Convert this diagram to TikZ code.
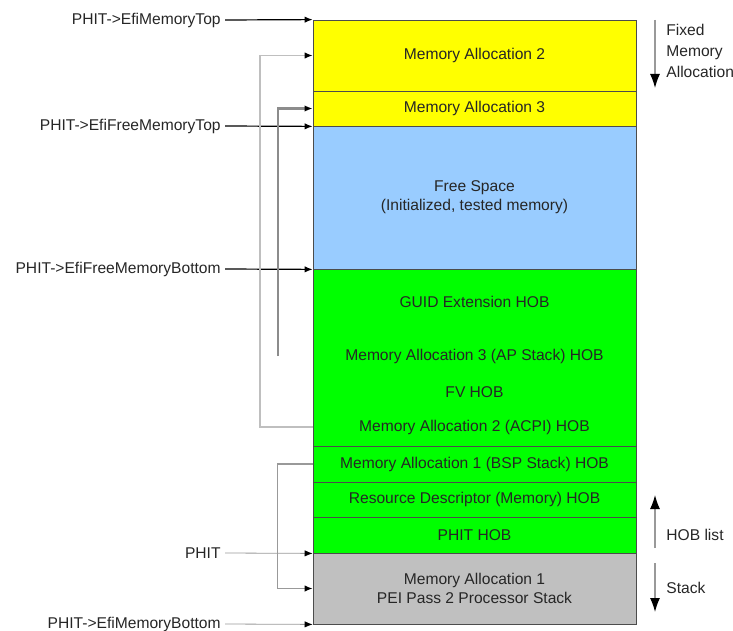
\documentclass[tikz,border=0pt]{standalone}
\usepackage{fontspec}
\setmainfont{Liberation Sans}
\usepackage{tikz}
\usetikzlibrary{arrows.meta, positioning, calc}

\definecolor{memyellow}{RGB}{255,255,0}
\definecolor{memblue}{RGB}{153,204,255}
\definecolor{memgreen}{RGB}{0,255,0}
\definecolor{memgray}{RGB}{192,192,192}

\begin{document}
\begin{tikzpicture}[
    x=0.5pt, y=-0.5pt,
    font=\fontsize{7.8}{9.6}\selectfont,
    block/.style={draw=black!70, minimum width=161.5pt, inner sep=0pt, align=center, text=black!85},
    ptrlabel/.style={anchor=east, inner sep=2pt, text=black!85},
    ptr/.style={black, semithick, -{Latex[length=4pt,width=3.2pt]}},
    ptrthin/.style={gray!80, thin, -{Latex[length=4pt,width=3.2pt,color=black]}},
    looplight/.style={gray!50, semithick, -{Latex[length=4pt,width=3.2pt,color=black]}},
    loopdark/.style={gray!90, very thick, -{Latex[length=4pt,width=3.2pt,color=black]}},
    loopmid/.style={gray!80, semithick, -{Latex[length=4pt,width=3.2pt,color=black]}},
    dirarrow/.style={gray!80, semithick, -{Latex[length=7pt,width=5pt,color=black]}},
    dirlabel/.style={anchor=west, align=left, inner sep=0pt, text=black!85}
]
\useasboundingbox (0,0) rectangle (733,631);

% X positions
\def\xl{313}
\def\xc{474.5}
\def\xr{655}

% ---------- Memory map ----------
\node[block, fill=memyellow, minimum height=35.5pt] (MA2) at (\xc,55.5) {Memory Allocation 2};
\node[block, fill=memyellow, minimum height=17.5pt] (MA3) at (\xc,108.5) {Memory Allocation 3};
\node[block, fill=memblue, minimum height=71.5pt] (FREE) at (\xc,197.5) {Free Space\\(Initialized, tested memory)};
\node[block, fill=memgreen, minimum height=88.5pt] (HOBS) at (\xc,357.5) {};
\node[block, fill=memgreen, minimum height=18pt] (BSP) at (\xc,464) {Memory Allocation 1 (BSP Stack) HOB};
\node[block, fill=memgreen, minimum height=17.5pt] (RES) at (\xc,499.5) {Resource Descriptor (Memory) HOB};
\node[block, fill=memgreen, minimum height=18pt] (PHITHOB) at (\xc,535) {PHIT HOB};
\node[block, fill=memgray, minimum height=35.5pt] (STACK) at (\xc,588.5) {Memory Allocation 1\\PEI Pass 2 Processor Stack};

% HOBs inside the green block
\node[text=black!85] (GUID) at (\xc,302) {GUID Extension HOB};
\node[text=black!85] (APHOB) at (\xc,356) {Memory Allocation 3 (AP Stack) HOB};
\node[text=black!85] (FVHOB) at (\xc,392) {FV HOB};
\node[text=black!85] (ACPI) at (\xc,427) {Memory Allocation 2 (ACPI) HOB};

% ---------- Pointers ----------
\node[ptrlabel] (LTop) at (225,20) {PHIT->EfiMemoryTop};
\node[ptrlabel] (LFreeTop) at (225,126) {PHIT->EfiFreeMemoryTop};
\node[ptrlabel] (LFreeBot) at (225,269) {PHIT->EfiFreeMemoryBottom};
\node[ptrlabel] (LPhit) at (225,553) {PHIT};
\node[ptrlabel] (LBot) at (225,624) {PHIT->EfiMemoryBottom};

\draw[ptr] (LTop.east) -- (MA2.north west);
\draw[ptr] (LFreeTop.east) -- (MA3.south west);
\draw[ptr] (LFreeBot.east) -- (FREE.south west);
\draw[ptrthin] (LPhit.east) -- (PHITHOB.south west);
\draw[ptrthin] (LBot.east) -- (STACK.south west);

% HOBs pointing at their allocations
\coordinate (acpiOut) at (\xl,427);
\coordinate (apEnd) at (278,356);
\draw[looplight] (acpiOut) -- ++(-53,0) |- (MA2.west);
\draw[loopdark] (apEnd) |- (MA3.west);
\draw[loopmid] (BSP.west) -- ++(-35,0) |- (STACK.west);

% ---------- Direction arrows ----------
\coordinate (fixTop) at (\xr,20);
\coordinate (fixBot) at (\xr,88);
\coordinate (hobBot) at (\xr,548);
\coordinate (hobTop) at (\xr,495);
\coordinate (stkTop) at (\xr,563);
\coordinate (stkBot) at (\xr,612);

\draw[dirarrow] (fixTop) -- (fixBot);
\draw[dirarrow] (hobBot) -- (hobTop);
\draw[dirarrow] (stkTop) -- (stkBot);

\node[dirlabel, font=\fontsize{7.8}{10.5}\selectfont, anchor=north west] (FixedLbl) at (666,24) {Fixed\\Memory\\Allocation};
\node[dirlabel] (HobLbl) at (666,535) {HOB list};
\node[dirlabel] (StkLbl) at (666,588) {Stack};

\end{tikzpicture}
\end{document}
